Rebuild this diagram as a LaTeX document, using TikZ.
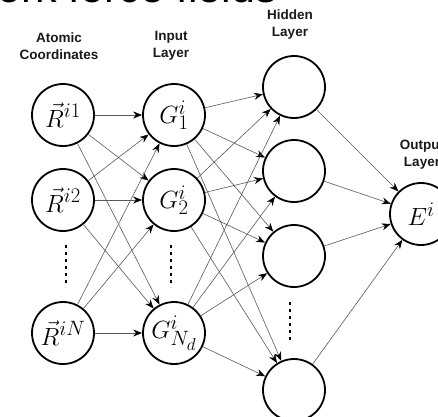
\documentclass[tikz,border=0pt]{standalone}
\usepackage{fontspec}
\setsansfont{Liberation Sans}
\usetikzlibrary{arrows.meta}
\begin{document}
\begin{tikzpicture}[x=1pt,y=-1pt,
  neuron/.style={circle,draw=black,line width=1.8pt,minimum size=62pt,inner sep=0pt,font=\Huge},
  conn/.style={draw=black!65,line width=0.6pt,-{Stealth[length=9pt,width=7pt,black]}},
  lbl/.style={font=\sffamily\bfseries\fontsize{13.5}{17}\selectfont,align=center,text=black!90},
  vdots/.style={line width=2.6pt,dash pattern=on 2.6pt off 4.4pt}]
\useasboundingbox (0,0) rectangle (438,416);
\begin{scope}
\clip (0,0) rectangle (438,416);
\node[anchor=base east,font=\sffamily\fontsize{43}{50}\selectfont,inner sep=0pt] (title) at (277,2) {Neural network force fields};
\node[lbl] (lac) at (59,46) {Atomic\\Coordinates};
\node[lbl] (lin) at (171,46) {Input\\Layer};
\node[lbl] (lhi) at (290,25) {Hidden\\Layer};
\node[lbl] (lout) at (422,155) {Output\\Layer};
\node[neuron] (R1) at (63,115) {$\vec{R}^{i1}$};
\node[neuron] (R2) at (63,200) {$\vec{R}^{i2}$};
\node[neuron] (RN) at (63,333) {$\vec{R}^{iN}$};
\node[neuron] (G1) at (174,115) {$G^i_1$};
\node[neuron] (G2) at (174,200) {$G^i_2$};
\node[neuron] (GN) at (174,333) {$G^i_{N_d}$};
\node[neuron] (H1) at (294,87) {};
\node[neuron] (H2) at (294,171) {};
\node[neuron] (H3) at (294,256) {};
\node[neuron] (H4) at (294,390) {};
\node[neuron] (E) at (421,214) {$E^i$};
\coordinate (rd1) at (66,245); \coordinate (rd2) at (66,287);
\coordinate (gd1) at (171,245); \coordinate (gd2) at (171,287);
\coordinate (hd1) at (290,302); \coordinate (hd2) at (290,342);
\draw[vdots] (rd1) -- (rd2);
\draw[vdots] (gd1) -- (gd2);
\draw[vdots] (hd1) -- (hd2);
\foreach \a in {R1,R2,RN}
  \foreach \b in {G1,G2,GN}
    \draw[conn] (\a) -- (\b);
\foreach \a in {G1,G2,GN}
  \foreach \b in {H1,H2,H3,H4}
    \draw[conn] (\a) -- (\b);
\foreach \a in {H1,H2,H3,H4}
  \draw[conn] (\a) -- (E);
\end{scope}
\end{tikzpicture}
\end{document}
